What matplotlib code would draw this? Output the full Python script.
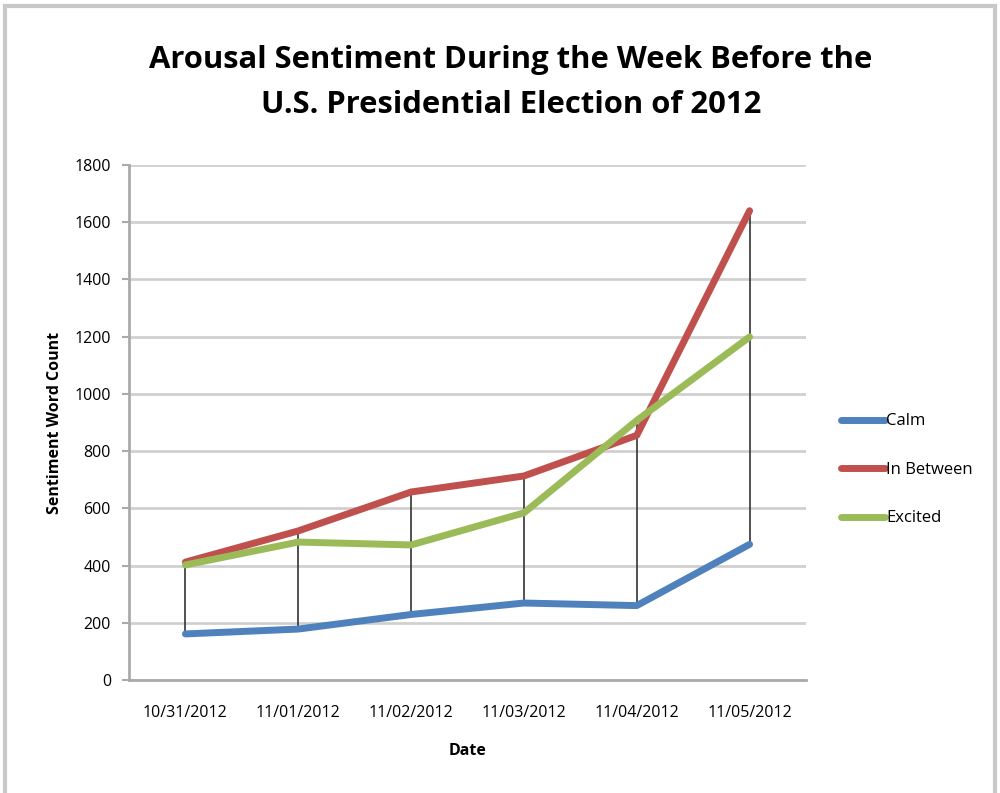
import matplotlib.pyplot as plt
import matplotlib.patches as mpatches
import numpy as np

plt.rcParams['font.family'] = ['Open Sans', 'DejaVu Sans']

# Data
dates = ['10/31/2012', '11/01/2012', '11/02/2012', '11/03/2012', '11/04/2012', '11/05/2012']
calm = [161, 178, 229, 269, 260, 474]
in_between = [412, 521, 657, 713, 855, 1640]
excited = [402, 482, 472, 584, 907, 1199]

colors = {'Calm': '#4F81BD', 'In Between': '#C0504D', 'Excited': '#9BBB59'}

fig = plt.figure(figsize=(10, 7.93), dpi=100)
ax = fig.add_axes([0.129, 0.1425, 0.677, 0.6495])

x = np.arange(len(dates))
series = np.array([calm, in_between, excited])

# high-low lines
ax.vlines(x, series.min(axis=0), series.max(axis=0), color='#333333', lw=1.2, zorder=2)

ax.plot(x, calm, color=colors['Calm'], lw=5, label='Calm', zorder=3, solid_capstyle='round')
ax.plot(x, in_between, color=colors['In Between'], lw=5, label='In Between', zorder=3, solid_capstyle='round')
ax.plot(x, excited, color=colors['Excited'], lw=5, label='Excited', zorder=4, solid_capstyle='round')

ax.set_xlim(-0.5, len(dates) - 0.5)
ax.set_ylim(0, 1800)
ax.set_yticks(np.arange(0, 1801, 200))
ax.set_xticks(x)
ax.set_xticklabels(dates, fontsize=11.5)
ax.tick_params(axis='y', labelsize=11.5, length=5, width=1.5, color='#aaaaaa', pad=8)
ax.tick_params(axis='x', length=0, pad=18)
ax.grid(axis='y', color='#d0d0d0', lw=2, zorder=0)
ax.set_axisbelow(True)
for s in ['top', 'right']:
    ax.spines[s].set_visible(False)
for s in ['left', 'bottom']:
    ax.spines[s].set_color('#aaaaaa')
    ax.spines[s].set_linewidth(2)

ax.set_xlabel('Date', fontsize=11.5, fontweight='bold', labelpad=16)
ax.set_ylabel('Sentiment Word Count', fontsize=11.5, fontweight='bold', labelpad=8)

fig.text(0.511, 0.896, 'Arousal Sentiment During the Week Before the\nU.S. Presidential Election of 2012',
         ha='center', va='center', fontsize=22.3, fontweight='bold', linespacing=1.62)

ax.legend(loc='center left', bbox_to_anchor=(1.03, 0.408), frameon=False, fontsize=12,
          handlelength=2.6, handletextpad=0.1, labelspacing=1.95)

fig.patches.append(mpatches.Rectangle((0.005, -0.01), 0.99, 1.003, transform=fig.transFigure,
                                      fill=False, edgecolor='#c8c8c8', lw=3))

plt.savefig('out.png', dpi=100)
